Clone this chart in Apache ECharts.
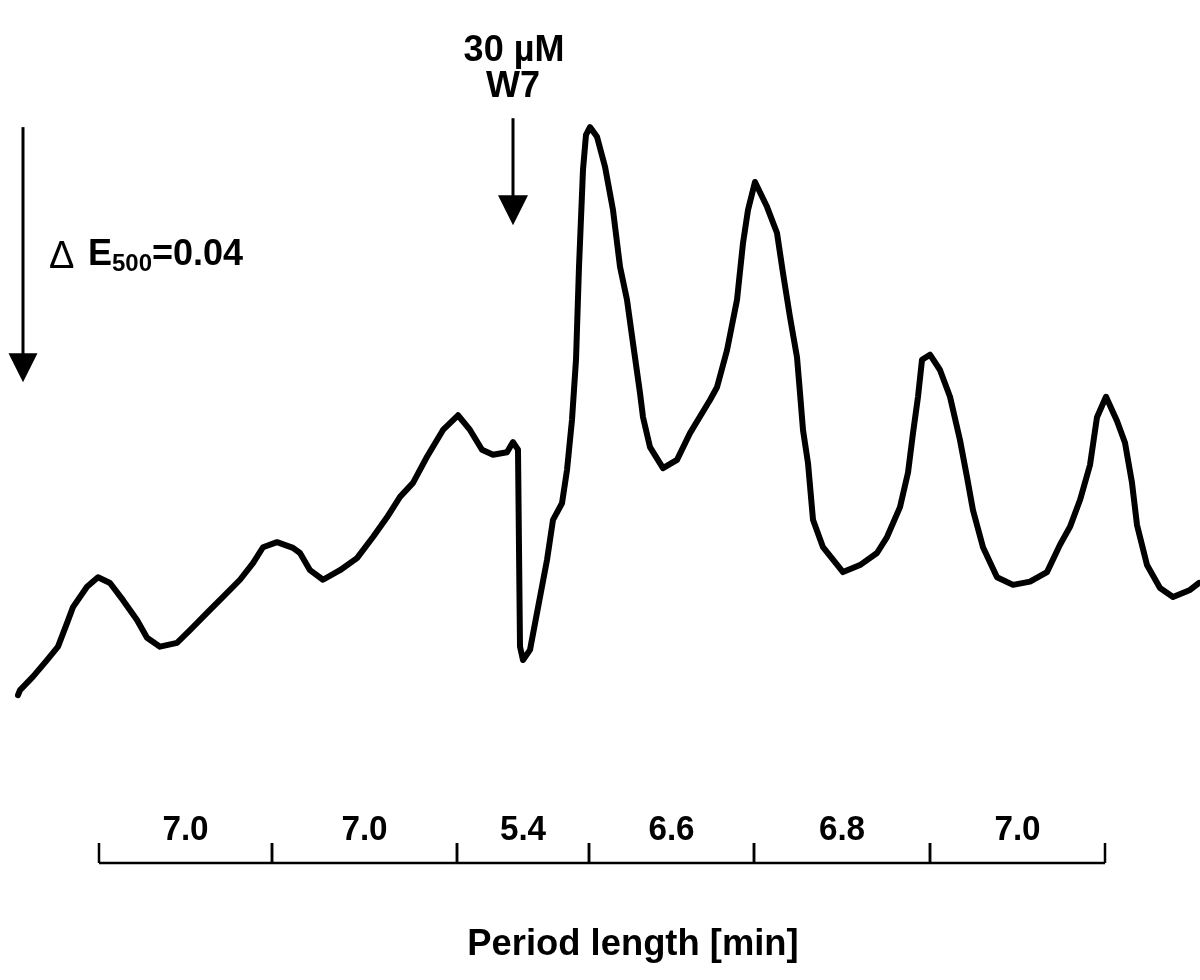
<!DOCTYPE html>
<html>
<head>
<meta charset="utf-8">
<title>W7 oscillations</title>
<script src="https://cdn.jsdelivr.net/npm/echarts@6/dist/echarts.min.js"></script>
<style>
html,body{margin:0;padding:0;background:#fff;}
#chart{width:1200px;height:980px;}
</style>
</head>
<body>
<div id="chart"></div>
<script>
// ---- Data (time in min, signal in mE relative units; 40 mE = ΔE500 0.04) ----
const traceTime = [0.00,0.08,0.60,1.16,1.60,1.96,2.20,2.76,3.20,3.68,4.20,4.76,5.16,5.68,6.36,6.88,7.56,8.20,8.88,9.40,9.80,10.36,11.00,11.28,11.68,12.20,12.88,13.56,14.20,14.76,15.28,15.80,16.36,17.00,17.60,18.08,18.56,19.00,19.56,19.80,20.00,20.08,20.20,20.48,20.76,21.16,21.40,21.76,21.96,22.16,22.32,22.44,22.60,22.72,22.88,23.16,23.48,23.80,24.08,24.36,24.60,24.88,25.00,25.28,25.80,26.36,26.88,27.68,27.96,28.36,28.76,29.00,29.20,29.48,29.96,30.36,30.60,30.88,31.16,31.28,31.40,31.60,31.80,32.20,33.00,33.68,34.36,34.76,35.28,35.60,35.80,36.00,36.16,36.48,36.88,37.28,37.68,37.96,38.20,38.60,39.16,39.80,40.48,41.16,41.68,42.08,42.48,42.88,43.16,43.52,43.96,44.28,44.56,44.76,45.16,45.68,46.20,46.88,47.24];
const traceSignal = [3.9,4.7,6.8,9.4,11.5,15.2,17.7,20.9,22.4,21.5,18.8,15.7,12.9,11.5,12.1,14.1,16.8,19.3,22.0,24.6,27.1,27.9,27.0,26.2,23.5,22.0,23.5,25.4,28.7,31.8,35.0,37.2,41.3,45.5,47.8,45.5,42.4,41.6,42.0,43.6,42.4,11.5,9.4,11.0,16.8,25.1,31.4,34.0,39.2,47.1,56.5,71.1,86.3,91.8,93.0,91.5,86.8,80.0,71.1,65.9,59.1,51.3,47.5,42.8,39.5,40.8,45.0,50.2,52.2,58.0,65.9,74.8,80.0,84.4,80.5,76.4,70.1,63.2,56.9,51.3,45.5,40.3,31.4,27.1,23.2,24.3,26.2,28.7,33.4,38.8,45.0,50.7,56.5,57.3,54.9,50.7,43.9,38.1,32.9,27.1,22.4,21.2,21.7,23.2,27.5,30.3,34.5,40.0,47.5,50.7,46.9,43.5,37.2,30.6,24.3,20.7,19.3,20.4,21.5];

// Period bracket: tick times (peak maxima, min) and period labels (min)
const periodTicks = [3.24, 10.16, 17.56, 22.84, 29.44, 36.48, 43.48];
const periodLabels = ['7.0', '7.0', '5.4', '6.6', '6.8', '7.0'];

// Scale bar (ΔE500 = 0.04 -> 40 mE) and W7 addition arrow
const scaleBarTime = [0.2];
const scaleBarTop = [93.0];
const scaleBarDelta = [40];
const additionTime = [19.8];
const additionTop = [94.4];
const additionTip = [77.6];

const axisTitle = 'Period length [min]';
const additionLabel = ['30 µM', 'W7'];

// ---- Chart ----
const FONT = '"Liberation Sans", Arial, Helvetica, sans-serif';
const chart = echarts.init(document.getElementById('chart'), null, {renderer: 'canvas'});

function txt(x, y, text, size, weight, align, sx) {
  return {
    type: 'text', x: x, y: y, scaleX: sx || 1,
    style: {
      text: text, x: 0, y: 0,
      font: weight + ' ' + size + 'px ' + FONT,
      fill: '#000',
      textAlign: align, align: align,
      textVerticalAlign: 'middle', verticalAlign: 'middle'
    }
  };
}

function arrow(px, topY, tipY, w, h) {
  return [
    {type: 'line', shape: {x1: px, y1: topY, x2: px, y2: tipY - h + 2},
     style: {stroke: '#000', lineWidth: 3}},
    {type: 'polygon', shape: {points: [[px, tipY], [px - w / 2, tipY - h], [px + w / 2, tipY - h]]},
     style: {fill: '#000'}}
  ];
}

const traceData = traceTime.map((t, i) => [t, traceSignal[i]]);
const scaleData = scaleBarTime.map((t, i) => [t, scaleBarTop[i], scaleBarTop[i] - scaleBarDelta[i]]);
const addData = additionTime.map((t, i) => [t, additionTop[i], additionTip[i]]);
const bracketData = periodLabels.map((l, i) => [periodTicks[i], periodTicks[i + 1]]);

const option = {
  animation: false,
  backgroundColor: '#fff',
  grid: [
    {left: 18, right: 1, top: 82.5, height: 637.5},
    {left: 18, right: 1, top: 843, height: 20}
  ],
  xAxis: [
    {type: 'value', gridIndex: 0, min: 0, max: 47.24, show: false},
    {type: 'value', gridIndex: 1, min: 0, max: 47.24, show: false}
  ],
  yAxis: [
    {type: 'value', gridIndex: 0, min: 0, max: 100, show: false},
    {type: 'value', gridIndex: 1, min: 0, max: 1, show: false}
  ],
  graphic: [
    {type: 'text', x: 633, y: 945, scaleX: 1.01,
     style: {text: axisTitle, font: 'bold 36px ' + FONT, fill: '#000',
             textAlign: 'center', align: 'center', textVerticalAlign: 'middle', verticalAlign: 'middle'}}
  ],
  series: [
    {
      type: 'line', xAxisIndex: 0, yAxisIndex: 0,
      data: traceData, showSymbol: false, symbol: 'none',
      lineStyle: {color: '#000', width: 6, join: 'round', cap: 'round'},
      z: 2
    },
    {
      type: 'custom', xAxisIndex: 0, yAxisIndex: 0, clip: false, z: 3,
      data: scaleData,
      renderItem: function (params, api) {
        const p1 = api.coord([api.value(0), api.value(1)]);
        const p2 = api.coord([api.value(0), api.value(2)]);
        const mid = (p1[1] + p2[1]) / 2;
        const x = p1[0];
        return {type: 'group', children: arrow(x, p1[1], p2[1], 29, 29).concat([
          txt(x + 26, mid + 3, 'Δ', 38, 'normal', 'left', 1.0),
          txt(x + 65, mid, 'E', 36, 'bold', 'left', 1.0),
          txt(x + 89, mid + 9.5, '500', 24, 'bold', 'left', 1.0),
          txt(x + 129, mid, '=0.04', 36, 'bold', 'left', 1.0)
        ])};
      }
    },
    {
      type: 'custom', xAxisIndex: 0, yAxisIndex: 0, clip: false, z: 3,
      data: addData,
      renderItem: function (params, api) {
        const p1 = api.coord([api.value(0), api.value(1)]);
        const p2 = api.coord([api.value(0), api.value(2)]);
        const x = p1[0];
        return {type: 'group', children: arrow(x, p1[1], p2[1], 30, 30).concat([
          txt(x + 1, p1[1] - 67, additionLabel[0], 36, 'bold', 'center', 1.0),
          txt(x, p1[1] - 31, additionLabel[1], 36, 'bold', 'center', 1.0)
        ])};
      }
    },
    {
      type: 'custom', xAxisIndex: 1, yAxisIndex: 1, clip: false, z: 3,
      data: bracketData,
      renderItem: function (params, api) {
        const a0 = api.coord([api.value(0), 0]);
        const a1 = api.coord([api.value(1), 0]);
        const t0 = api.coord([api.value(0), 1]);
        const st = {stroke: '#000', lineWidth: 2.5};
        return {type: 'group', children: [
          {type: 'line', shape: {x1: a0[0], y1: a0[1], x2: a1[0], y2: a1[1]}, style: st},
          {type: 'line', shape: {x1: a0[0], y1: a0[1], x2: a0[0], y2: t0[1]}, style: st},
          {type: 'line', shape: {x1: a1[0], y1: a1[1], x2: a1[0], y2: t0[1]}, style: st},
          txt((a0[0] + a1[0]) / 2, t0[1] - 13, periodLabels[params.dataIndex], 35, 'bold', 'center', 0.95)
        ]};
      }
    }
  ]
};
chart.setOption(option);
</script>
</body>
</html>
